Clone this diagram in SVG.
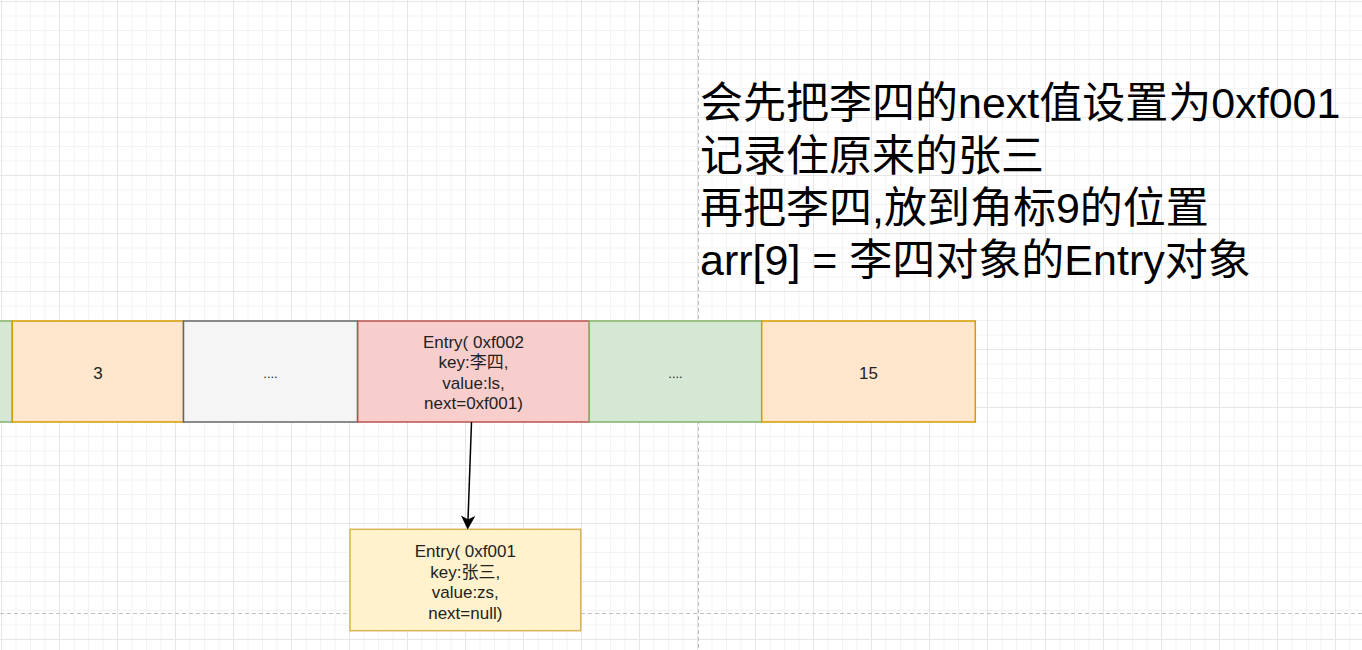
<svg xmlns="http://www.w3.org/2000/svg" width="1362" height="650" viewBox="0 0 1362 650">
  <defs>
    <pattern id="grid" patternUnits="userSpaceOnUse" x="1" y="1" width="58" height="58">
      <rect x="0" y="0" width="58" height="58" fill="#ffffff"/>
      <g fill="#f3f3f3">
        <rect x="14.5" y="0" width="1" height="58"/>
        <rect x="29" y="0" width="1" height="58"/>
        <rect x="43.5" y="0" width="1" height="58"/>
        <rect x="0" y="14.5" width="58" height="1"/>
        <rect x="0" y="29" width="58" height="1"/>
        <rect x="0" y="43.5" width="58" height="1"/>
      </g>
      <g fill="#e6e6e6">
        <rect x="0" y="0" width="1" height="58"/>
        <rect x="0" y="0" width="58" height="1"/>
      </g>
    </pattern>
    <marker id="arrow" markerUnits="userSpaceOnUse" viewBox="-10 -10 20 20" markerWidth="20" markerHeight="20" refX="0" refY="0" orient="auto" overflow="visible">
      <path d="M8,0 L-3.5,-6 L-0.5,0 L-3.5,6 Z" fill="#000000" stroke="#000000" stroke-width="1"/>
    </marker>
    <style>
      .cell { stroke-width: 1.5; }
      .orange { fill: #ffe6cc; stroke: #d79b00; }
      .grey { fill: #f5f5f5; stroke: #666666; }
      .red { fill: #f8cecc; stroke: #b85450; }
      .green { fill: #d5e8d4; stroke: #82b366; }
      .yellow { fill: #fff2cc; stroke: #d6b656; }
      .lbl { font-family: "Liberation Sans", "Noto Sans CJK SC", sans-serif; font-size: 17px; fill: #222222; text-anchor: middle; }
      .dots { font-size: 13px; }
      .big { font-family: "Liberation Sans", "Noto Sans CJK SC", sans-serif; font-size: 43px; fill: #000000; }
      .guide { stroke: #c0c0c0; stroke-width: 1; stroke-dasharray: 4 3; fill: none; }
    </style>
  </defs>

  <rect x="0" y="0" width="1362" height="650" fill="url(#grid)"/>

  <g id="guides">
    <line class="guide" x1="698.5" y1="0" x2="698.5" y2="650"/>
    <line class="guide" x1="0" y1="613.5" x2="1362" y2="613.5"/>
  </g>

  <g id="cell-left">
    <rect class="cell green" x="-160" y="321" width="172.3" height="101"/>
  </g>
  <g id="cell-3">
    <rect class="cell orange" x="12.3" y="321" width="171.2" height="101"/>
    <text class="lbl" x="98" y="378.5">3</text>
  </g>
  <g id="cell-dots1">
    <rect class="cell grey" x="183.5" y="321" width="174" height="101"/>
    <text class="lbl dots" x="270.5" y="377.5">....</text>
  </g>
  <g id="cell-entry-lisi">
    <rect class="cell red" x="357.7" y="321" width="231.6" height="101"/>
    <text class="lbl" x="473.5" y="347.7">Entry( 0xf002</text>
    <text class="lbl" x="473.5" y="368.1">key:李四,</text>
    <text class="lbl" x="473.5" y="388.5">value:ls,</text>
    <text class="lbl" x="473.5" y="409">next=0xf001)</text>
  </g>
  <g id="cell-dots2">
    <rect class="cell green" x="589.3" y="321" width="172.4" height="101"/>
    <text class="lbl dots" x="675.5" y="377.5">....</text>
  </g>
  <g id="cell-15">
    <rect class="cell orange" x="761.7" y="321" width="213.6" height="101"/>
    <text class="lbl" x="868.5" y="378.5">15</text>
  </g>

  <g id="entry-zhangsan">
    <rect class="cell yellow" x="350" y="529.3" width="230.7" height="101.4"/>
    <text class="lbl" x="465.3" y="557.3">Entry( 0xf001</text>
    <text class="lbl" x="465.3" y="577.7">key:张三,</text>
    <text class="lbl" x="465.3" y="598.1">value:zs,</text>
    <text class="lbl" x="465.3" y="618.5">next=null)</text>
  </g>

  <g id="connectors">
    <line x1="471.5" y1="422" x2="467.98" y2="520.5" stroke="#000000" stroke-width="1.5" marker-end="url(#arrow)"/>
  </g>

  <g id="note">
    <text class="big" x="700" y="118">会先把李四的next值设置为0xf001</text>
    <text class="big" x="700" y="170.5">记录住原来的张三</text>
    <text class="big" x="700" y="222.5">再把李四,放到角标9的位置</text>
    <text class="big" x="700" y="275">arr[9] = 李四对象的Entry对象</text>
  </g>
</svg>
